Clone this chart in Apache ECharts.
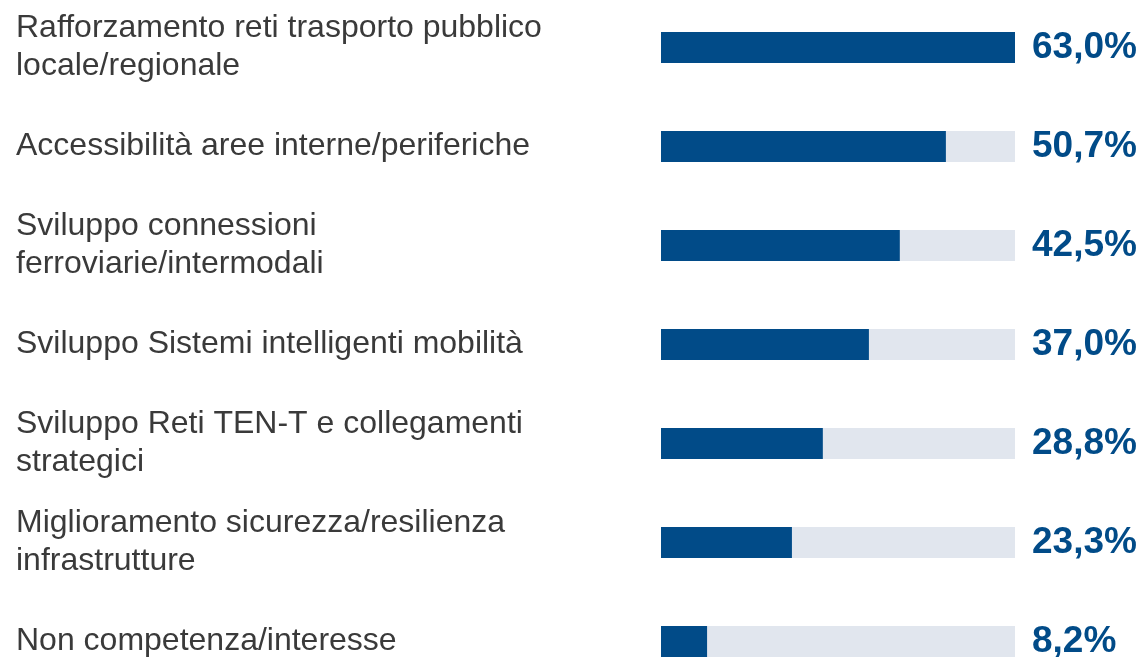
<!DOCTYPE html>
<html>
<head>
<meta charset="utf-8">
<script src="https://cdn.jsdelivr.net/npm/echarts@6/dist/echarts.min.js"></script>
<style>
  html, body { margin: 0; padding: 0; background: #fff; }
  #chart { width: 1145px; height: 657px; }
</style>
</head>
<body>
<div id="chart"></div>
<script>
// categorie e valori (%)
var categories = [
    'Rafforzamento reti trasporto pubblico\nlocale/regionale',
    'Accessibilità aree interne/periferiche',
    'Sviluppo connessioni\nferroviarie/intermodali',
    'Sviluppo Sistemi intelligenti mobilità',
    'Sviluppo Reti TEN-T e collegamenti\nstrategici',
    'Miglioramento sicurezza/resilienza\ninfrastrutture',
    'Non competenza/interesse'
];
var values = [63.0, 50.7, 42.5, 37.0, 28.8, 23.3, 8.2];
var maxValue = 63.0;

var navy = '#014b88';

var valueLabels = values.map(function (v) {
    return v.toFixed(1).replace('.', ',') + '%';
});

var chart = echarts.init(document.getElementById('chart'));

var option = {
    animation: false,
    grid: {
        left: 661,
        right: 130,
        top: -2,
        height: 693,
        outerBoundsMode: 'none'
    },
    xAxis: {
        type: 'value',
        min: 0,
        max: maxValue,
        show: false
    },
    yAxis: [
        {
            type: 'category',
            inverse: true,
            data: categories,
            axisLine: {show: false},
            axisTick: {show: false},
            axisLabel: {
                align: 'left',
                margin: 645,
                fontFamily: 'Liberation Sans, Arial, sans-serif',
                fontSize: 32,
                lineHeight: 38,
                color: '#3a3a3a'
            }
        },
        {
            type: 'category',
            inverse: true,
            position: 'right',
            data: valueLabels,
            axisLine: {show: false},
            axisTick: {show: false},
            axisLabel: {
                align: 'left',
                margin: 17,
                fontFamily: 'Liberation Sans, Arial, sans-serif',
                fontSize: 37,
                fontWeight: 'bold',
                color: navy
            }
        }
    ],
    series: [{
        type: 'bar',
        data: values,
        barWidth: 31,
        itemStyle: {color: navy},
        showBackground: true,
        backgroundStyle: {color: '#e1e6ee'}
    }]
};

chart.setOption(option);
</script>
</body>
</html>
